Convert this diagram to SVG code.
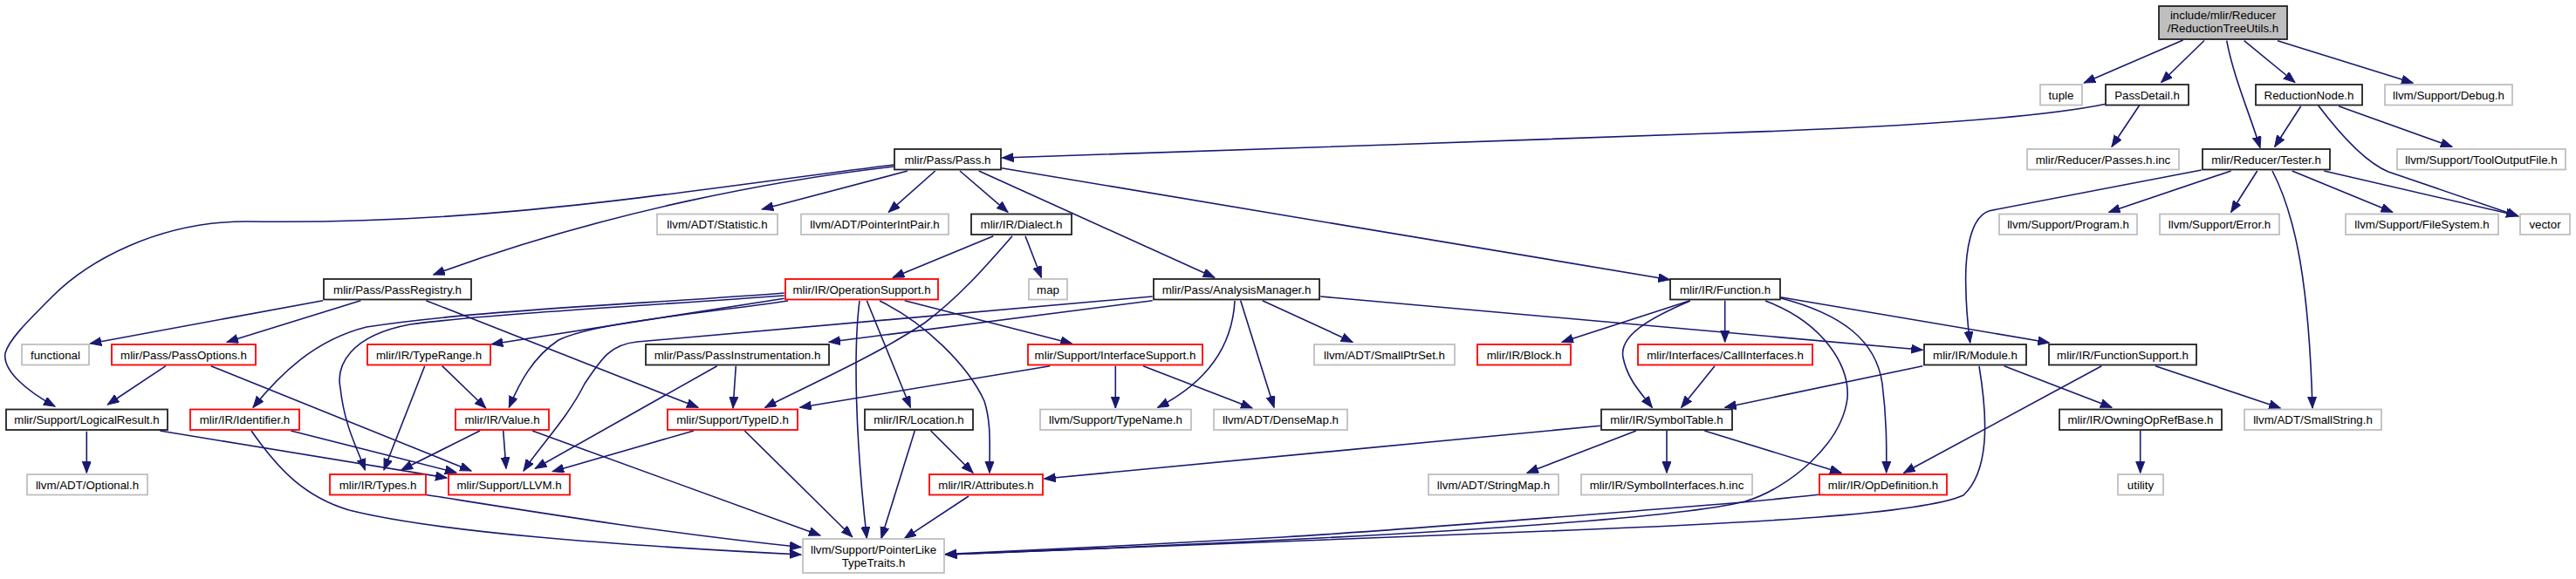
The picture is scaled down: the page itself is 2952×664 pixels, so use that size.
<svg xmlns="http://www.w3.org/2000/svg" width="2952" height="664" viewBox="0 0 2952 664">
<style>
rect{stroke-width:1.8}
.k{fill:#fff;stroke:#222}
.g{fill:#fff;stroke:#bfbfbf}
.r{fill:#fff;stroke:#ff0000}
.root{fill:#bfbfbf;stroke:#222}
text{font-family:"Liberation Sans",Arial,sans-serif;font-size:13.3px;fill:#000;text-anchor:middle}
#edges path{fill:none;stroke:#191970;stroke-width:1.6;marker-end:url(#a)}
</style>
<defs>
<marker id="a" markerWidth="14" markerHeight="11" refX="13" refY="5" orient="auto" markerUnits="userSpaceOnUse">
<path d="M0,0 L13,5 L0,10 z" fill="#191970" stroke="#191970" stroke-width="1"/>
</marker>
</defs>
<rect width="2952" height="664" fill="#fff"/>
<g id="edges">
<path d="M2501.7,46 L2388.3,95"/>
<path d="M2526,46.5 L2476.7,94.5"/>
<path d="M2551.7,46.7 C2560,90 2578,130 2590,169.5"/>
<path d="M2571.7,46.7 L2630,94.5"/>
<path d="M2610,46.7 L2765,95"/>
<path d="M2412,119.5 C2390,124 2300,142 1960,153 C1700,162 1400,173 1148.5,181"/>
<path d="M2451.7,120.7 L2420,168.3"/>
<path d="M2636.7,121.7 L2606.7,168.3"/>
<path d="M2656.7,121 C2690,165 2715,188 2737,197 L2886,248"/>
<path d="M2680,121.7 L2810,168.3"/>
<path d="M2522.7,195 L2280,241.7 C2258,248 2252,290 2252.7,324 C2253,360 2256,380 2257.7,393"/>
<path d="M2556.7,196 L2416.7,243.3"/>
<path d="M2586.7,196 L2556.7,243.3"/>
<path d="M2604,196 C2632,250 2646,330 2650,468"/>
<path d="M2626.7,196 L2741.7,243.3"/>
<path d="M2663.3,196 L2885,247.3"/>
<path d="M1024,191 C900,205 700,240 496.7,315"/>
<path d="M1024,189 C760,222 560,258 283,254 C180,254 100,300 60,340 C30,370 10,390 6,405 C3,425 30,448 63,466"/>
<path d="M1040,196 L873.3,240"/>
<path d="M1071.7,196 L1018.3,243.3"/>
<path d="M1100,196 L1155,243.3"/>
<path d="M1121.7,196 L1391.7,318.3"/>
<path d="M1147.7,192.7 L1913.3,320.7"/>
<path d="M1138.3,270.7 L1023.3,318.3"/>
<path d="M1160,270.7 C1130,305 1100,340 1060,370 C1000,410 930,440 876.7,467.3"/>
<path d="M1175,270.7 L1193.3,318.3"/>
<path d="M370,344.7 L103.3,394"/>
<path d="M413.3,344.7 L260,392.3"/>
<path d="M488.3,344.7 L800,467.3"/>
<path d="M190,419.7 L123.3,464"/>
<path d="M241.7,419.7 L540,540"/>
<path d="M99.3,494.7 L99.3,542.3"/>
<path d="M183.3,494 L512,548"/>
<path d="M898.7,336 C750,348 550,355 420,375 C360,390 320,430 290,467.3"/>
<path d="M898.7,339 C750,350 560,360 470,372 C400,385 385,420 390,445 C395,490 410,515 418.3,539"/>
<path d="M898.7,342.3 L563.3,394.7"/>
<path d="M903,345 C800,360 680,370 640,390 C610,410 595,440 583.3,467.3"/>
<path d="M985,345 C978,400 980,500 993.3,617"/>
<path d="M993.3,344.7 L1043.3,467.3"/>
<path d="M1008,345 C1060,370 1110,420 1128,460 C1136,485 1134,510 1134,542.3"/>
<path d="M1036.7,344.7 L1228.3,394"/>
<path d="M1320.7,340 L730,392 C700,395 690,410 670,440 C650,480 620,510 600,540"/>
<path d="M1320.7,344.7 L950,392.3"/>
<path d="M1415,345 C1412,400 1380,440 1326.7,467.3"/>
<path d="M1421.7,344.7 L1460,467.3"/>
<path d="M1446.7,344.7 L1550,392.3"/>
<path d="M1513.3,340 L2203.3,401.3"/>
<path d="M1936.7,344.7 L1790,392.3"/>
<path d="M1937,345 C1890,365 1855,385 1860,410 C1865,435 1880,450 1893.3,467.3"/>
<path d="M1976.7,344.7 L1976.7,392.3"/>
<path d="M2023,345 C2090,370 2120,420 2117,457 C2110,510 2050,560 2000,575 C1900,600 1500,620 1083.5,636"/>
<path d="M2041,342 C2110,360 2150,390 2157,440 C2162,480 2162,510 2161.7,542"/>
<path d="M2040,340.7 L2348.3,393"/>
<path d="M1965,419.7 L1926.7,467.3"/>
<path d="M2203.3,419.7 L1976.7,467.3"/>
<path d="M2268,420 C2278,480 2280,540 2250,568 C2200,590 2000,600 1800,608 C1500,620 1250,630 1083.5,636"/>
<path d="M2296.7,419.7 L2420,467.3"/>
<path d="M2408.3,419.7 L2181.7,542.3"/>
<path d="M2470,419.7 L2613.3,468"/>
<path d="M2452.7,494 L2452.7,542.3"/>
<path d="M1834,488.3 L1196.7,549"/>
<path d="M1875,494 L1750,542.3"/>
<path d="M1910,494 L1910,542.3"/>
<path d="M1953.3,494 L2110,542.3"/>
<path d="M2084,567.3 C2040,572 2000,576 1960,579 C1800,592 1600,608 1470,616 C1350,623 1200,630 1083.5,635.5"/>
<path d="M1048.3,494 L1010,617.3"/>
<path d="M1066.7,494 L1115,542.3"/>
<path d="M1110,569 L1036.7,617.3"/>
<path d="M1203.3,419.7 L916.7,467.3"/>
<path d="M1278.3,419.7 L1278.3,468"/>
<path d="M1310,419.7 L1435,468"/>
<path d="M843.3,419.7 L840,468"/>
<path d="M821.7,419.7 L613.3,537.3"/>
<path d="M795,494 L633.3,540.7"/>
<path d="M853.3,494 L976.7,615.7"/>
<path d="M506.7,419.7 L556.7,468"/>
<path d="M486.7,419.7 L440,539"/>
<path d="M550,494 L460,539"/>
<path d="M576.7,494 L580,537.3"/>
<path d="M610,494 L940,614"/>
<path d="M333.3,494 L523,542"/>
<path d="M288,494 C320,540 350,570 400,585 C500,610 700,625 918,636"/>
<path d="M488.7,567.5 C600,585 750,610 918,627.5"/>
</g>
<g id="n_root"><rect class="root" x="2474" y="7" width="147" height="38"/><text x="2547.5" y="22">include/mlir/Reducer</text><text x="2547.5" y="37.3">/ReductionTreeUtils.h</text></g>
<g id="n_tuple"><rect class="g" x="2338" y="97" width="48" height="23.5"/><text x="2362" y="113.5">tuple</text></g>
<g id="n_passdetail"><rect class="k" x="2413" y="97" width="95" height="23.5"/><text x="2460.5" y="113.5">PassDetail.h</text></g>
<g id="n_rednode"><rect class="k" x="2585" y="97" width="122" height="23.5"/><text x="2646" y="113.5">ReductionNode.h</text></g>
<g id="n_debug"><rect class="g" x="2733" y="97" width="146" height="23.5"/><text x="2806" y="113.5">llvm/Support/Debug.h</text></g>
<g id="n_pass"><rect class="k" x="1025" y="171" width="122" height="23.5"/><text x="1086" y="187.5">mlir/Pass/Pass.h</text></g>
<g id="n_passesinc"><rect class="g" x="2323" y="171" width="174" height="23.5"/><text x="2410" y="187.5">mlir/Reducer/Passes.h.inc</text></g>
<g id="n_tester"><rect class="k" x="2524" y="171" width="146" height="23.5"/><text x="2597" y="187.5">mlir/Reducer/Tester.h</text></g>
<g id="n_tooloutput"><rect class="g" x="2747" y="171" width="193" height="23.5"/><text x="2843.5" y="187.5">llvm/Support/ToolOutputFile.h</text></g>
<g id="n_statistic"><rect class="g" x="753" y="245.5" width="138" height="23.5"/><text x="822" y="262">llvm/ADT/Statistic.h</text></g>
<g id="n_pointerint"><rect class="g" x="918" y="245.5" width="169" height="23.5"/><text x="1002.5" y="262">llvm/ADT/PointerIntPair.h</text></g>
<g id="n_dialect"><rect class="k" x="1113" y="245.5" width="115" height="23.5"/><text x="1170.5" y="262">mlir/IR/Dialect.h</text></g>
<g id="n_program"><rect class="g" x="2291" y="245.5" width="158" height="23.5"/><text x="2370" y="262">llvm/Support/Program.h</text></g>
<g id="n_error"><rect class="g" x="2475" y="245.5" width="137" height="23.5"/><text x="2543.5" y="262">llvm/Support/Error.h</text></g>
<g id="n_filesystem"><rect class="g" x="2688" y="245.5" width="175" height="23.5"/><text x="2775.5" y="262">llvm/Support/FileSystem.h</text></g>
<g id="n_vector"><rect class="g" x="2888" y="245.5" width="57" height="23.5"/><text x="2916.5" y="262">vector</text></g>
<g id="n_passregistry"><rect class="k" x="371" y="320" width="169" height="23.5"/><text x="455.5" y="336.5">mlir/Pass/PassRegistry.h</text></g>
<g id="n_opsupport"><rect class="r" x="900" y="320" width="175" height="23.5"/><text x="987.5" y="336.5">mlir/IR/OperationSupport.h</text></g>
<g id="n_map"><rect class="g" x="1179" y="320" width="44" height="23.5"/><text x="1201" y="336.5">map</text></g>
<g id="n_analysis"><rect class="k" x="1322" y="320" width="190" height="23.5"/><text x="1417" y="336.5">mlir/Pass/AnalysisManager.h</text></g>
<g id="n_function"><rect class="k" x="1914" y="320" width="126" height="23.5"/><text x="1977" y="336.5">mlir/IR/Function.h</text></g>
<g id="n_functional"><rect class="g" x="25" y="395" width="77" height="23.5"/><text x="63.5" y="411.5">functional</text></g>
<g id="n_passoptions"><rect class="r" x="128" y="395" width="165" height="23.5"/><text x="210.5" y="411.5">mlir/Pass/PassOptions.h</text></g>
<g id="n_typerange"><rect class="r" x="421" y="395" width="141" height="23.5"/><text x="491.5" y="411.5">mlir/IR/TypeRange.h</text></g>
<g id="n_passinstr"><rect class="k" x="740" y="395" width="210" height="23.5"/><text x="845" y="411.5">mlir/Pass/PassInstrumentation.h</text></g>
<g id="n_interfacesupport"><rect class="r" x="1178" y="395" width="200" height="23.5"/><text x="1278" y="411.5">mlir/Support/InterfaceSupport.h</text></g>
<g id="n_smallptrset"><rect class="g" x="1506" y="395" width="161" height="23.5"/><text x="1586.5" y="411.5">llvm/ADT/SmallPtrSet.h</text></g>
<g id="n_block"><rect class="r" x="1693" y="395" width="107" height="23.5"/><text x="1746.5" y="411.5">mlir/IR/Block.h</text></g>
<g id="n_callinterfaces"><rect class="r" x="1877" y="395" width="200" height="23.5"/><text x="1977" y="411.5">mlir/Interfaces/CallInterfaces.h</text></g>
<g id="n_module"><rect class="k" x="2205" y="395" width="117" height="23.5"/><text x="2263.5" y="411.5">mlir/IR/Module.h</text></g>
<g id="n_functionsupport"><rect class="k" x="2348" y="395" width="169" height="23.5"/><text x="2432.5" y="411.5">mlir/IR/FunctionSupport.h</text></g>
<g id="n_logicalresult"><rect class="k" x="7" y="469.5" width="185" height="23.5"/><text x="99.5" y="486">mlir/Support/LogicalResult.h</text></g>
<g id="n_identifier"><rect class="r" x="218" y="469.5" width="125" height="23.5"/><text x="280.5" y="486">mlir/IR/Identifier.h</text></g>
<g id="n_value"><rect class="r" x="522" y="469.5" width="107" height="23.5"/><text x="575.5" y="486">mlir/IR/Value.h</text></g>
<g id="n_typeid"><rect class="r" x="765" y="469.5" width="149" height="23.5"/><text x="839.5" y="486">mlir/Support/TypeID.h</text></g>
<g id="n_location"><rect class="k" x="991" y="469.5" width="124" height="23.5"/><text x="1053" y="486">mlir/IR/Location.h</text></g>
<g id="n_typename"><rect class="g" x="1192" y="469.5" width="173" height="23.5"/><text x="1278.5" y="486">llvm/Support/TypeName.h</text></g>
<g id="n_densemap"><rect class="g" x="1391" y="469.5" width="153" height="23.5"/><text x="1467.5" y="486">llvm/ADT/DenseMap.h</text></g>
<g id="n_symboltable"><rect class="k" x="1835" y="469.5" width="150" height="23.5"/><text x="1910" y="486">mlir/IR/SymbolTable.h</text></g>
<g id="n_owningop"><rect class="k" x="2360" y="469.5" width="186" height="23.5"/><text x="2453" y="486">mlir/IR/OwningOpRefBase.h</text></g>
<g id="n_smallstring"><rect class="g" x="2572" y="469.5" width="157" height="23.5"/><text x="2650.5" y="486">llvm/ADT/SmallString.h</text></g>
<g id="n_optional"><rect class="g" x="31" y="544" width="138" height="23.5"/><text x="100" y="560.5">llvm/ADT/Optional.h</text></g>
<g id="n_types"><rect class="r" x="378" y="544" width="110" height="23.5"/><text x="433" y="560.5">mlir/IR/Types.h</text></g>
<g id="n_llvm"><rect class="r" x="514" y="544" width="139" height="23.5"/><text x="583.5" y="560.5">mlir/Support/LLVM.h</text></g>
<g id="n_attributes"><rect class="r" x="1065" y="544" width="130" height="23.5"/><text x="1130" y="560.5">mlir/IR/Attributes.h</text></g>
<g id="n_stringmap"><rect class="g" x="1637" y="544" width="149" height="23.5"/><text x="1711.5" y="560.5">llvm/ADT/StringMap.h</text></g>
<g id="n_symbolifaces"><rect class="g" x="1812" y="544" width="196" height="23.5"/><text x="1910" y="560.5">mlir/IR/SymbolInterfaces.h.inc</text></g>
<g id="n_opdefinition"><rect class="r" x="2085" y="544" width="146" height="23.5"/><text x="2158" y="560.5">mlir/IR/OpDefinition.h</text></g>
<g id="n_utility"><rect class="g" x="2427" y="544" width="52" height="23.5"/><text x="2453" y="560.5">utility</text></g>
<g id="n_pointerlike"><rect class="g" x="920" y="618" width="162" height="39"/><text x="1001" y="634.5">llvm/Support/PointerLike</text><text x="1001" y="649.7">TypeTraits.h</text></g>
</svg>
